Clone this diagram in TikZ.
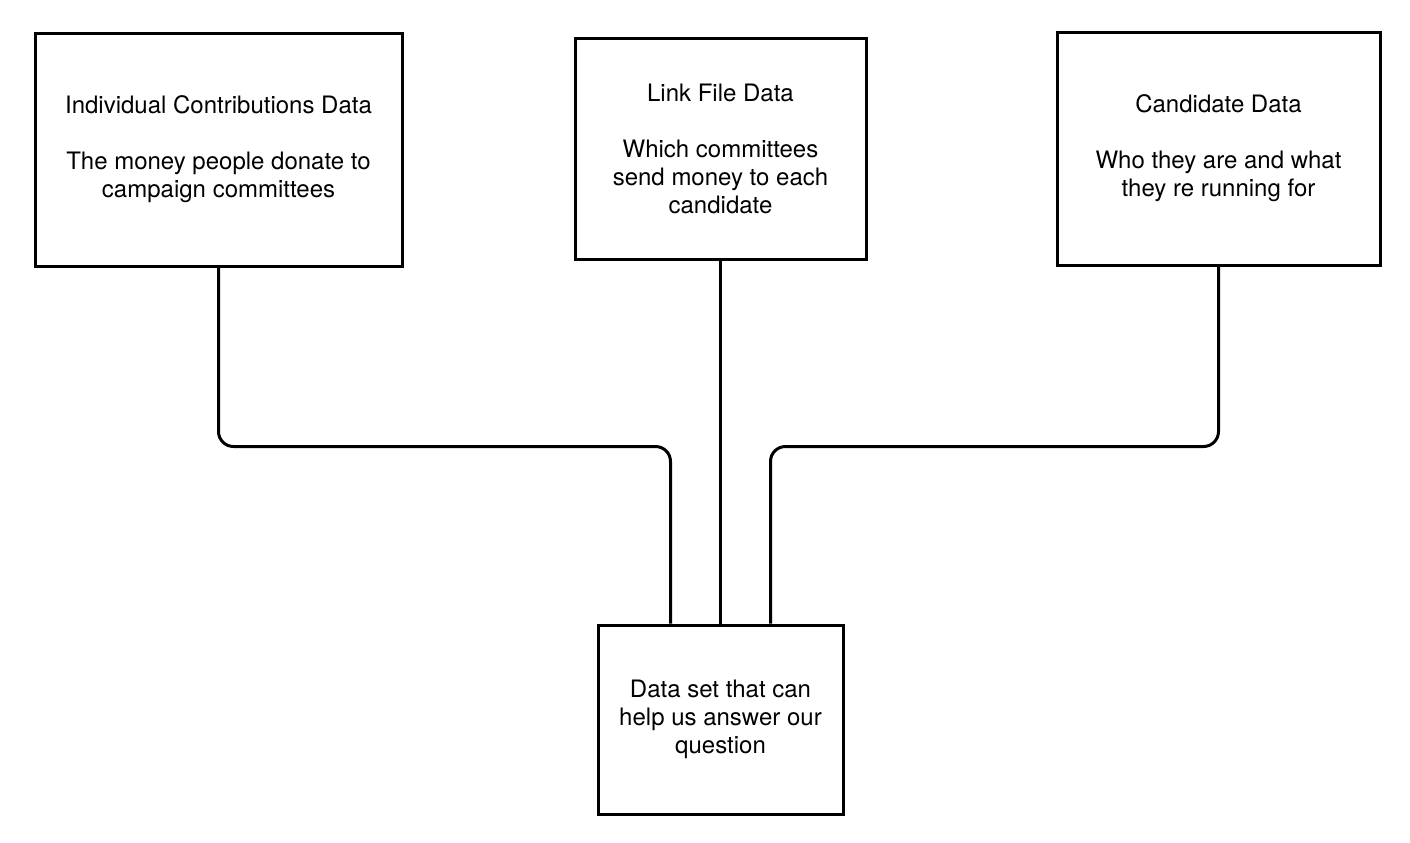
\documentclass[tikz,border=0pt]{standalone}
\usepackage{fontspec}
\setmainfont{TeX Gyre Heros}
\usetikzlibrary{positioning}

\begin{document}
\begin{tikzpicture}[x=0.5pt,y=-0.5pt]
        \tikzstyle{every node}=[draw,line width=1.5pt,align=center,inner sep=0pt,font=\fontsize{12}{14}\selectfont]
        \tikzstyle{link}=[line width=1.5pt,rounded corners=7.5pt]
        \useasboundingbox (0,0) rectangle (1410,842);
        \node[minimum width=183.5pt,minimum height=116.5pt] (indiv) at (218.5,149.5) {Individual Contributions Data\\[14pt]The money people donate to\\campaign committees};
        \node[minimum width=145.5pt,minimum height=110.5pt] (link) at (720.5,148.5) {Link File Data\\[14pt]Which committees\\send money to each\\candidate};
        \node[minimum width=161.5pt,minimum height=116.5pt] (cand) at (1218.5,148.5) {Candidate Data\\[14pt]Who they are and what\\they re running for};
        \node[minimum width=122.5pt,minimum height=94.5pt] (dataset) at (720.5,719.5) {Data set that can\\help us answer our\\question};
        \draw[link] (indiv.south) -- ++(0,179) -| ([xshift=-25pt]dataset.north);
        \draw[link] (link.south) -- (dataset.north);
        \draw[link] (cand.south) -- ++(0,180) -| ([xshift=25pt]dataset.north);
    \end{tikzpicture}
\end{document}
